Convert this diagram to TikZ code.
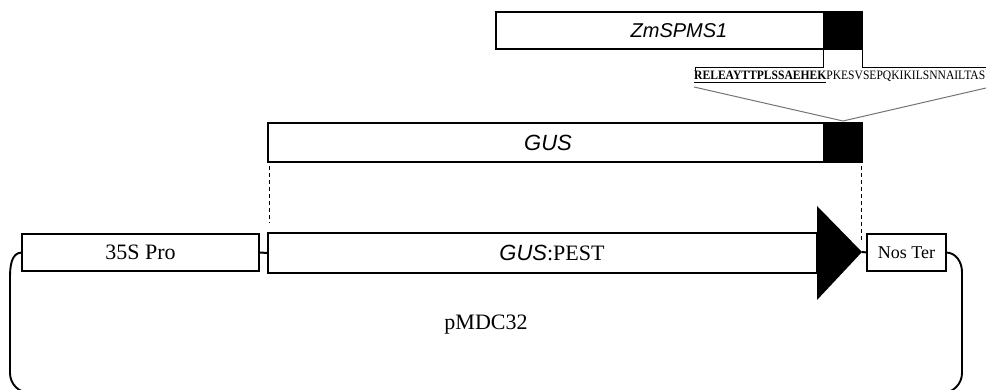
\documentclass[tikz,border=0pt]{standalone}
\usepackage{fontspec}
\setmainfont{Liberation Serif}
\newfontfamily\sansf{Liberation Sans}
\newcommand{\sansit}{\sansf\itshape}
\begin{document}
\begin{tikzpicture}[x=1pt,y=1pt,
  box/.style={draw, line width=2.4pt, inner sep=0pt, outer sep=0pt, fill=white},
  blk/.style={fill=black, inner sep=0pt, outer sep=0pt},
  thinln/.style={line width=0.9pt},
  dashln/.style={line width=0.8pt, dash pattern=on 4pt off 3pt},
  fanln/.style={line width=1pt, black!55},
  loopln/.style={line width=1.9pt, line cap=round},
  big/.style={font=\fontsize{22}{26}\selectfont},
  lbl/.style={inner sep=0pt}]
\useasboundingbox (0,0) rectangle (986,390);

% ZmSPMS1 box
\node[box, minimum width=366pt, minimum height=37pt] (zm) at (679,359.5) {};
\node[blk, minimum width=39pt, minimum height=37pt] (zmpest) at (842.5,359.5) {};
\node[lbl, font=\fontsize{20}{24}\selectfont\sansit] (zmtxt) at (679,359.5) {ZmSPMS1};

% bracket and sequence
\coordinate (seqL) at (695,319);
\coordinate (seqR) at (986,323);
\draw[thinln] (zmpest.south west) |- (695,323) -- (seqL);
\draw[thinln] (zmpest.south east) |- (seqR);
\node[anchor=base west, inner sep=0pt] (seq) at (694,310)
  {\resizebox{291pt}{8.5pt}{\fontsize{11}{13}\selectfont\underline{\textbf{RELEAYTTPLSSAEHEK}}PKESVSEPQKIKILSNNAILTAS}};

% GUS box
\node[box, minimum width=594pt, minimum height=39pt] (gus) at (565,247.5) {};
\node[blk, minimum width=39pt, minimum height=39pt] (guspest) at (842.5,247.5) {};
\node[lbl, font=\fontsize{22}{26}\selectfont\sansit] (gustxt) at (548,247.5) {GUS};

% fan lines
\coordinate (fanL) at (694,303);
\coordinate (fanM) at (843,269);
\coordinate (fanR) at (986,302);
\draw[fanln] (fanL) -- (fanM) -- (fanR);

% dashed guides
\coordinate (dL1) at (269,224);
\coordinate (dL2) at (269,167);
\coordinate (dR1) at (861,224);
\coordinate (dR2) at (861,148);
\draw[dashln] (dL1) -- (dL2);
\draw[dashln] (dR1) -- (dR2);

% construct row
\node[box, minimum width=237pt, minimum height=37pt, big] (s35) at (140.5,137.5) {35S Pro};
\node[box, minimum width=549pt, minimum height=40pt] (gp) at (542.5,137) {};
\node[lbl, big] (gptxt) at (552,137) {{\sansit GUS}:PEST};
\coordinate (triT) at (817,184);
\coordinate (triB) at (817,90);
\coordinate (tip) at (862,138);
\fill[line join=round] (triT) -- (tip) -- (triB) -- cycle;
\node[box, minimum width=79pt, minimum height=37pt, font=\fontsize{18}{22}\selectfont] (nos) at (906.5,137.5) {Nos Ter};
\draw[line width=2pt] (s35.east) -- (gp.west);
\draw[line width=2pt] (tip) -- (nos.west);

% plasmid loop
\draw[loopln] (s35.west) to[out=180,in=90] (10,112);
\draw[loopln, rounded corners=20pt] (10,112) -- (10,-3) -- (962,-3) -- (962,118);
\draw[loopln] (962,118) to[out=90,in=0] (nos.east);
\node[lbl, big] (pmdc) at (486,65) {pMDC32};
\end{tikzpicture}
\end{document}
